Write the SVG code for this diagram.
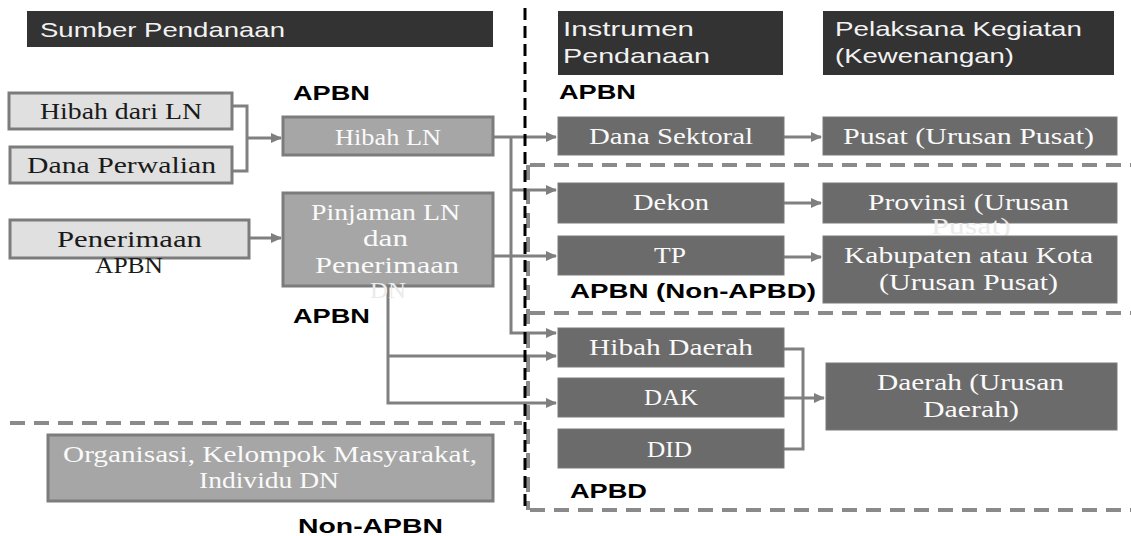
<svg xmlns="http://www.w3.org/2000/svg" width="1131" height="536" viewBox="0 0 1131 536">
<defs>
<marker id="arr" markerWidth="12" markerHeight="12" refX="10" refY="6" orient="auto" markerUnits="userSpaceOnUse"><path d="M0,1 L11,6 L0,11 Z" fill="#7f7f7f"/></marker>
<style>
.hdr{fill:#333333}
.ht{font-family:"Liberation Sans",Arial,sans-serif;font-size:21px;fill:#f2f2f2}
.lt{fill:#e0e0e0;stroke:#7c7c7c;stroke-width:3}
.md{fill:#a6a6a6;stroke:#7c7c7c;stroke-width:3}
.dk{fill:#6b6b6b;stroke:#7a7a7a;stroke-width:1}
.st{font-family:"Liberation Serif","Times New Roman",serif;font-size:23px}
.dark{fill:#1a1a1a}
.wh{fill:#fafafa}
.faint{fill:#ebebeb}
.lbl{font-family:"Liberation Sans",Arial,sans-serif;font-weight:bold;font-size:21px;fill:#000}
.cn{fill:none;stroke:#808080;stroke-width:3}
.gd{fill:none;stroke:#8a8a8a;stroke-width:4;stroke-dasharray:15 9}
.bd{fill:none;stroke:#000;stroke-width:3;stroke-dasharray:12 6}
</style>
</defs>
<rect width="1131" height="536" fill="#fff"/>

<g id="regions">
<path class="gd" d="M10,423 H522"/>
<path class="gd" d="M530,165 H1131"/>
<path class="gd" d="M530,313 H1131"/>
<path class="gd" d="M530,510 H1131"/>
<path class="gd" d="M528,165 V510"/>
</g>

<g id="headers">
<g id="h-sumber"><rect class="hdr" x="27" y="11" width="466" height="36"/><text class="ht" x="40" y="37" textLength="245" lengthAdjust="spacingAndGlyphs">Sumber Pendanaan</text></g>
<g id="h-instrumen"><rect class="hdr" x="558" y="11" width="225" height="64"/><text class="ht" x="563" y="36" textLength="131" lengthAdjust="spacingAndGlyphs">Instrumen</text><text class="ht" x="563" y="63" textLength="147" lengthAdjust="spacingAndGlyphs">Pendanaan</text></g>
<g id="h-pelaksana"><rect class="hdr" x="823" y="11" width="291" height="64"/><text class="ht" x="835" y="36" textLength="247" lengthAdjust="spacingAndGlyphs">Pelaksana Kegiatan</text><text class="ht" x="835" y="63" textLength="179" lengthAdjust="spacingAndGlyphs">(Kewenangan)</text></g>
</g>

<g id="labels">
<text class="lbl" x="293" y="100" textLength="77" lengthAdjust="spacingAndGlyphs">APBN</text>
<text class="lbl" x="293" y="323" textLength="77" lengthAdjust="spacingAndGlyphs">APBN</text>
<text class="lbl" x="559" y="99" textLength="77" lengthAdjust="spacingAndGlyphs">APBN</text>
<text class="lbl" x="570" y="298" textLength="246" lengthAdjust="spacingAndGlyphs">APBN (Non-APBD)</text>
<text class="lbl" x="570" y="498" textLength="77" lengthAdjust="spacingAndGlyphs">APBD</text>
<text class="lbl" x="298" y="533" textLength="145" lengthAdjust="spacingAndGlyphs">Non-APBN</text>
</g>

<g id="connectors">
<path class="cn" d="M232,106 H247 V171 H232"/>
<path class="cn" d="M247,138 H281" marker-end="url(#arr)"/>
<path class="cn" d="M249,238 H281" marker-end="url(#arr)"/>
<path class="cn" d="M493,137 H556" marker-end="url(#arr)"/>
<path class="cn" d="M511,137 V333 H556" marker-end="url(#arr)"/>
<path class="cn" d="M511,190 H556" marker-end="url(#arr)"/>
<path class="cn" d="M493,256 H556" marker-end="url(#arr)"/>
<path class="cn" d="M388,286 V403 H556" marker-end="url(#arr)"/>
<path class="cn" d="M388,356 H556" marker-end="url(#arr)"/>
<path class="cn" d="M784,137 H821" marker-end="url(#arr)"/>
<path class="cn" d="M784,203 H821" marker-end="url(#arr)"/>
<path class="cn" d="M784,257 H821" marker-end="url(#arr)"/>
<path class="cn" d="M784,349 H803 V449 H784"/>
<path class="cn" d="M784,398 H824" marker-end="url(#arr)"/>
</g>

<g id="n-hibah-dari-ln"><rect class="lt" x="9" y="93" width="223" height="36"/><text class="st dark" x="40" y="119" textLength="162" lengthAdjust="spacingAndGlyphs">Hibah dari LN</text></g>
<g id="n-dana-perwalian"><rect class="lt" x="10" y="147" width="222" height="36"/><text class="st dark" x="27" y="173" textLength="189" lengthAdjust="spacingAndGlyphs">Dana Perwalian</text></g>
<g id="n-penerimaan-apbn"><rect class="lt" x="10" y="220" width="239" height="38"/><text class="st dark" x="57" y="247" textLength="145" lengthAdjust="spacingAndGlyphs">Penerimaan</text><text class="st dark" x="95" y="273" textLength="68" lengthAdjust="spacingAndGlyphs">APBN</text></g>

<g id="n-hibah-ln"><rect class="md" x="283" y="117" width="210" height="38"/><text class="st wh" x="335" y="145" textLength="106" lengthAdjust="spacingAndGlyphs">Hibah LN</text></g>
<g id="n-pinjaman"><rect class="md" x="283" y="193" width="210" height="93"/><text class="st wh" x="311" y="220" textLength="149" lengthAdjust="spacingAndGlyphs">Pinjaman LN</text><text class="st wh" x="363" y="246" textLength="45" lengthAdjust="spacingAndGlyphs">dan</text><text class="st wh" x="315" y="273" textLength="144" lengthAdjust="spacingAndGlyphs">Penerimaan</text><text class="st faint" x="370" y="298" textLength="36" lengthAdjust="spacingAndGlyphs">DN</text></g>
<g id="n-organisasi"><rect class="md" x="48" y="435" width="445" height="66"/><text class="st wh" x="63" y="462" textLength="414" lengthAdjust="spacingAndGlyphs">Organisasi, Kelompok Masyarakat,</text><text class="st wh" x="199" y="488" textLength="140" lengthAdjust="spacingAndGlyphs">Individu DN</text></g>

<g id="n-dana-sektoral"><rect class="dk" x="558" y="117" width="226" height="38"/><text class="st wh" x="589" y="144" textLength="164" lengthAdjust="spacingAndGlyphs">Dana Sektoral</text></g>
<g id="n-dekon"><rect class="dk" x="558" y="183" width="226" height="40"/><text class="st wh" x="633" y="210" textLength="76" lengthAdjust="spacingAndGlyphs">Dekon</text></g>
<g id="n-tp"><rect class="dk" x="558" y="236" width="226" height="39"/><text class="st wh" x="654" y="263" textLength="32" lengthAdjust="spacingAndGlyphs">TP</text></g>
<g id="n-hibah-daerah"><rect class="dk" x="558" y="328" width="226" height="39"/><text class="st wh" x="589" y="355" textLength="164" lengthAdjust="spacingAndGlyphs">Hibah Daerah</text></g>
<g id="n-dak"><rect class="dk" x="558" y="378" width="226" height="39"/><text class="st wh" x="644" y="405" textLength="54" lengthAdjust="spacingAndGlyphs">DAK</text></g>
<g id="n-did"><rect class="dk" x="558" y="429" width="226" height="39"/><text class="st wh" x="647" y="457" textLength="45" lengthAdjust="spacingAndGlyphs">DID</text></g>

<g id="n-pusat"><rect class="dk" x="823" y="117" width="294" height="38"/><text class="st wh" x="843" y="144" textLength="251" lengthAdjust="spacingAndGlyphs">Pusat (Urusan Pusat)</text></g>
<g id="n-provinsi"><rect class="dk" x="823" y="183" width="294" height="40"/><text class="st wh" x="868" y="210" textLength="201" lengthAdjust="spacingAndGlyphs">Provinsi (Urusan</text><text class="st faint" x="931" y="234" textLength="80" lengthAdjust="spacingAndGlyphs">Pusat)</text></g>
<g id="n-kabupaten"><rect class="dk" x="823" y="236" width="294" height="67"/><text class="st wh" x="844" y="263" textLength="249" lengthAdjust="spacingAndGlyphs">Kabupaten atau Kota</text><text class="st wh" x="879" y="290" textLength="179" lengthAdjust="spacingAndGlyphs">(Urusan Pusat)</text></g>
<g id="n-daerah"><rect class="dk" x="826" y="363" width="291" height="67"/><text class="st wh" x="877" y="390" textLength="187" lengthAdjust="spacingAndGlyphs">Daerah (Urusan</text><text class="st wh" x="923" y="417" textLength="96" lengthAdjust="spacingAndGlyphs">Daerah)</text></g>

<g id="divider">
<path class="bd" d="M525,8 V512"/>
</g>
</svg>
